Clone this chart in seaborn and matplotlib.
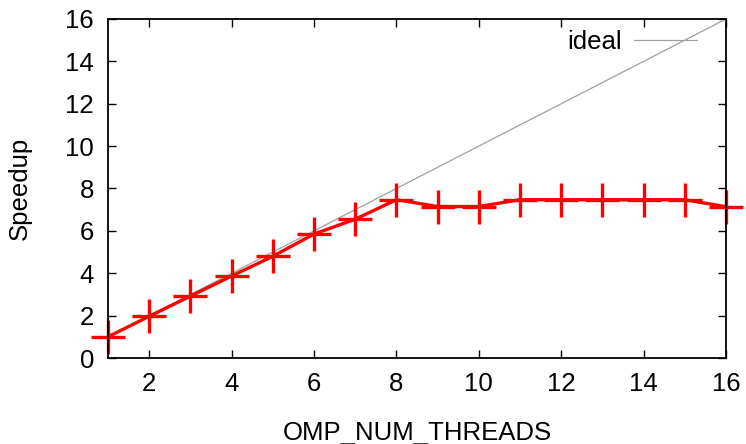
import numpy as np
import pandas as pd
import matplotlib
matplotlib.use("Agg")
import matplotlib.pyplot as plt
import seaborn as sns

# data
threads = [1, 2, 3, 4, 5, 6, 7, 8, 9, 10, 11, 12, 13, 14, 15, 16]
speedup = [1.0, 1.97, 2.92, 3.87, 4.8, 5.85, 6.55, 7.47, 7.15, 7.15, 7.47, 7.47, 7.47, 7.47, 7.47, 7.14]
ideal = threads

sns.set_style("ticks")
plt.rcParams['font.family'] = ['Liberation Sans', 'DejaVu Sans']
plt.rcParams['text.color'] = 'black'
plt.rcParams['axes.labelcolor'] = 'black'

df = pd.DataFrame({'threads': threads, 'speedup': speedup, 'ideal': ideal})

fig = plt.figure(figsize=(7.46, 4.44), dpi=100)
ax = fig.add_axes([108 / 746, 86 / 444, 618 / 746, 339 / 444])

sns.lineplot(data=df, x='threads', y='ideal', ax=ax, color='#a0a0a0', lw=0.9, label='ideal')
sns.lineplot(data=df, x='threads', y='speedup', ax=ax, color='red', lw=2.4,
             marker='+', markersize=24, markeredgewidth=2.4, markeredgecolor='red',
             legend=False, clip_on=False)

ax.set_xlim(1, 16)
ax.set_ylim(0, 16)
ax.set_xticks(range(2, 17, 2))
ax.set_yticks(range(0, 17, 2))
ax.tick_params(direction='in', length=6, width=1, top=True, right=True,
               labelsize=18.5, pad=10, colors='black')
for s in ax.spines.values():
    s.set_linewidth(1.3)
    s.set_color('black')

ax.set_xlabel('OMP_NUM_THREADS', fontsize=18.5, labelpad=18)
ax.set_ylabel('Speedup', fontsize=18.5, labelpad=24)

leg = ax.legend(loc='upper right', frameon=False, markerfirst=False, fontsize=18.5,
                handlelength=2.45, handletextpad=0.47, bbox_to_anchor=(0.99, 1.035))

fig.savefig('out.png', dpi=100)
